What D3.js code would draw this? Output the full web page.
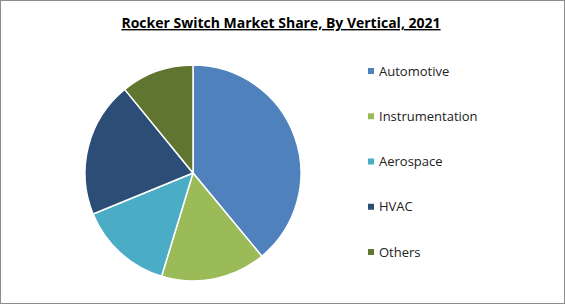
<!DOCTYPE html>
<html>
<head>
<meta charset="utf-8">
<script src="https://cdn.jsdelivr.net/npm/d3@7"></script>
<style>
  body { margin: 0; background: #fff; }
  svg { display: block; }
</style>
</head>
<body>
<div id="chart"></div>
<script>
// Chart data
var categories = ["Automotive", "Instrumentation", "Aerospace", "HVAC", "Others"];
var shares = [39.0, 15.7, 14.1, 20.3, 10.9];
var colors = ["#4f81bd", "#9bbb59", "#4bacc6", "#2c4d75", "#5f7530"];

var width = 565, height = 304;

var svg = d3.select("#chart")
  .append("svg")
    .attr("width", width)
    .attr("height", height);

// outer frame
svg.append("rect")
    .attr("x", 0.5)
    .attr("y", 0.5)
    .attr("width", width - 1)
    .attr("height", height - 1)
    .attr("fill", "#fff")
    .attr("stroke", "#8c8c8c");

// title
svg.append("text")
    .attr("x", 281)
    .attr("y", 28)
    .attr("text-anchor", "middle")
    .attr("font-family", "'Open Sans', sans-serif")
    .attr("font-size", 14)
    .attr("font-weight", "bold")
    .attr("text-decoration", "underline")
    .attr("fill", "#000")
    .text("Rocker Switch Market Share, By Vertical, 2021");

// pie
var pie = d3.pie().sort(null).value(function(d) { return d; });
var arc = d3.arc().innerRadius(0).outerRadius(108);
var color = d3.scaleOrdinal().domain(categories).range(colors);

var g = svg.append("g").attr("transform", "translate(193,173)");

g.selectAll("path")
  .data(pie(shares))
  .enter()
  .append("path")
    .attr("d", arc)
    .attr("fill", function(d, i) { return color(categories[i]); })
    .attr("stroke", "#fff")
    .attr("stroke-width", 1.5)
    .attr("stroke-linejoin", "round");

// legend
var legendY = d3.scalePoint().domain(categories).range([71, 252]);

var legend = svg.selectAll(".legend")
  .data(categories)
  .enter()
  .append("g")
    .attr("class", "legend")
    .attr("transform", function(d) { return "translate(368," + legendY(d) + ")"; });

legend.append("rect")
    .attr("x", 0)
    .attr("y", -3)
    .attr("width", 6)
    .attr("height", 6)
    .attr("fill", function(d) { return color(d); });

legend.append("text")
    .attr("x", 11)
    .attr("y", 0)
    .attr("dy", "0.35em")
    .attr("font-family", "'Open Sans', sans-serif")
    .attr("font-size", 13)
    .attr("fill", "#222")
    .text(function(d) { return d; });
</script>
</body>
</html>
